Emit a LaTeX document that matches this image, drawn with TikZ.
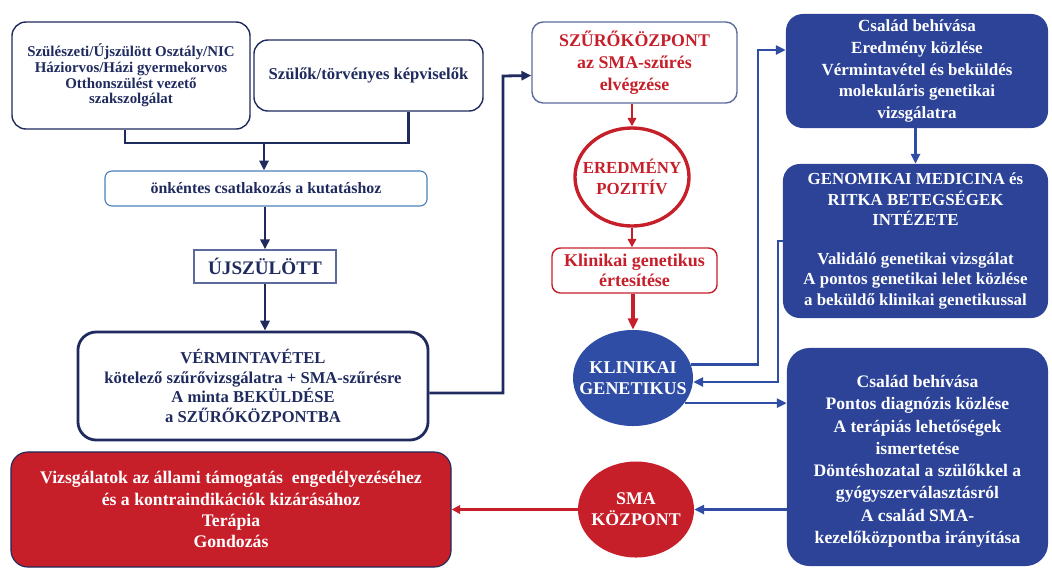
\documentclass[tikz,border=0pt]{standalone}
\usepackage{fontspec}
\setmainfont{Liberation Serif}
\usepackage {tikz}
\usetikzlibrary {positioning}
\usetikzlibrary{shapes.geometric}
\usetikzlibrary{calc}
\usetikzlibrary{arrows.meta}
\definecolor{navy}{HTML}{1F2A5E}
\definecolor{grayblue}{HTML}{5C6B9C}
\definecolor{lightblue}{HTML}{4A80B8}
\definecolor{fillblue}{HTML}{2C4398}
\definecolor{lineblue}{HTML}{2F4DA4}
\definecolor{fillred}{HTML}{C71F2A}
\tikzset{
    navybox/.style = {rectangle,rounded corners=10pt,draw=navy,line width=1pt,text=navy,align=center},
    thickbox/.style = {navybox,line width=2pt},
    lightbox/.style = {rectangle,rounded corners=5pt,draw=lightblue,line width=0.8pt,text=navy,align=center},
    plainbox/.style = {rectangle,draw=grayblue,line width=1pt,text=navy,align=center},
    redframe/.style = {rectangle,rounded corners=8pt,draw=grayblue,line width=1pt,text=fillred,align=center},
    filledblue/.style = {rectangle,rounded corners=12pt,fill=fillblue,text=white,align=center},
    filledred/.style = {rectangle,rounded corners=12pt,fill=fillred,draw=navy,line width=0.8pt,text=white,align=center},
    redring/.style = {ellipse,draw=fillred,line width=2.4pt,fill=white,text=fillred,align=center,inner sep=0pt},
    blueoval/.style = {ellipse,fill=lineblue,text=white,align=center,inner sep=0pt},
    redoval/.style = {ellipse,fill=fillred,text=white,align=center,inner sep=0pt},
    navyline/.style = {draw=navy,line width=2pt},
    navyarrow/.style = {navyline,-{Triangle[length=7pt,width=6.5pt]}},
    bluearrow/.style = {draw=lineblue,line width=1.7pt,-{Triangle[length=7pt,width=6.5pt]}},
    redarrow/.style = {draw=fillred,line width=1.5pt,-{Triangle[length=6pt,width=6pt]}},
    redthick/.style = {draw=fillred,line width=2.2pt,-{Triangle[length=8pt,width=7pt]}}}

\begin{document}
\begin{tikzpicture}[x=0.025cm,y=-0.025cm]
    \useasboundingbox (0,0) rectangle (1052,568);
    \path (131,75.5) node[navybox,minimum width=5.95cm,minimum height=2.675cm,font=\bfseries\fontsize{10.6}{11.2}\selectfont] (szul) {Szülészeti/Újszülött Osztály/NIC\\Háziorvos/Házi gyermekorvos\\Otthonszülést vezető\\szakszolgálat}
        + (237.5,0) node[navybox,minimum width=5.725cm,minimum height=1.775cm,font=\bfseries\fontsize{11.8}{13}\selectfont] (szulok) {Szülők/törvényes képviselők}
        + (135,113) node[lightbox,minimum width=8.05cm,minimum height=0.875cm,font=\bfseries\fontsize{11.3}{13}\selectfont] (onkentes) {önkéntes csatlakozás a kutatáshoz}
        + (134,191) node[plainbox,minimum width=3.55cm,minimum height=0.825cm,font=\bfseries\fontsize{13.6}{15}\selectfont] (ujsz) {ÚJSZÜLÖTT}
        + (122,310.5) node[thickbox,rounded corners=13pt,minimum width=8.75cm,minimum height=2.7cm,font=\bfseries\fontsize{11.8}{14}\selectfont] (verm) {VÉRMINTAVÉTEL\\kötelező szűrővizsgálatra + SMA-szűrésre\\A minta BEKÜLDÉSE\\a SZŰRŐKÖZPONTBA}
        + (100,434) node[filledred,minimum width=11cm,minimum height=2.875cm,font=\bfseries\fontsize{12.6}{15}\selectfont] (redbox) {Vizsgálatok az állami támogatás~ engedélyezéséhez\\és a kontraindikációk kizárásához\\Terápia\\Gondozás};
    \path (634.5,62.5) node[redframe,minimum width=5.125cm,minimum height=2.025cm,font=\bfseries\fontsize{12.7}{15.5}\selectfont] (szuro) {SZŰRŐKÖZPONT\\az SMA-szűrés\\elvégzése}
        + (-2.5,114.5) node[redring,inner xsep=-7pt,minimum width=2.85cm,minimum height=2.45cm,font=\bfseries\fontsize{12}{15}\selectfont] (ered) {EREDMÉNY\\POZITÍV}
        + (0,208) node[redframe,draw=fillred,rounded corners=6pt,minimum width=4.125cm,minimum height=1.125cm,font=\bfseries\fontsize{12.8}{14.5}\selectfont] (klinert) {Klinikai genetikus\\értesítése}
        + (-1.5,315.5) node[blueoval,inner xsep=-9pt,minimum width=3cm,minimum height=2.4cm,font=\bfseries\fontsize{12.8}{15}\selectfont] (kg) {KLINIKAI\\GENETIKUS}
        + (1.5,447) node[redoval,inner xsep=-4pt,minimum width=2.9cm,minimum height=2.4cm,font=\bfseries\fontsize{12.7}{15}\selectfont] (sma) {SMA\\KÖZPONT};
    \path (917,71) node[filledblue,minimum width=6.55cm,minimum height=2.85cm,font=\bfseries\fontsize{12.1}{15.5}\selectfont] (csal1) {Család behívása\\Eredmény közlése\\Vérmintavétel és beküldés\\molekuláris genetikai\\vizsgálatra}
        + (-1.5,170) node[filledblue,minimum width=6.625cm,minimum height=3.85cm,font=\bfseries\fontsize{12}{14.5}\selectfont] (genom) {GENOMIKAI MEDICINA és\\RITKA BETEGSÉGEK\\INTÉZETE\\[13pt]Validáló genetikai vizsgálat\\A pontos genetikai lelet közlése\\a beküldő klinikai genetikussal}
        + (0.5,386) node[filledblue,rounded corners=16pt,minimum width=6.525cm,minimum height=5.45cm,font=\bfseries\fontsize{12.5}{15.8}\selectfont] (csal2) {\\[-1pt]Család behívása\\Pontos diagnózis közlése\\A terápiás lehetőségek\\ismertetése\\Döntéshozatal a szülőkkel a\\gyógyszerválasztásról\\A család SMA-\\kezelőközpontba irányítása};
    \coordinate (join) at (264,143);
    \coordinate (bendA) at (503,76);
    \coordinate (bendB) at (758,50);
    \coordinate (bendC) at (778,382);
    % left column
    \draw[navyline] ($(szul.south)+(-6,0)$) |- (join) -| ($(szulok.south)+(40,0)$);
    \draw[navyarrow] (join) -- (join |- onkentes.north);
    \draw[navyarrow] (ujsz.north |- onkentes.south) -- (ujsz.north);
    \draw[navyarrow] (ujsz.south) -- (ujsz.south |- verm.north);
    \draw[navyarrow] ($(verm.east)+(0,7)$) -| (bendA) -- ($(szuro.west)+(0,13)$);
    % middle column
    \draw[redarrow] (ered.north |- szuro.south) -- (ered.north);
    \draw[redarrow] (ered.south) -- (ered.south |- klinert.north);
    \draw[redthick] (kg.north |- klinert.south) -- (kg.north);
    % right column
    \draw[bluearrow] (kg.13) -| (bendB) -- (bendB -| csal1.west);
    \draw[bluearrow] (genom.north |- csal1.south) -- (genom.north);
    \draw[bluearrow] (genom.west) -| (bendC) -- (bendC -| kg.east);
    \draw[bluearrow] (kg.-26) -- (kg.-26 -| csal2.west);
    \draw[bluearrow] (csal2.west |- sma.east) -- (sma.east);
    \draw[redarrow,line width=1.8pt] (sma.west) -- (redbox.east);
\end{tikzpicture}
\end{document}
